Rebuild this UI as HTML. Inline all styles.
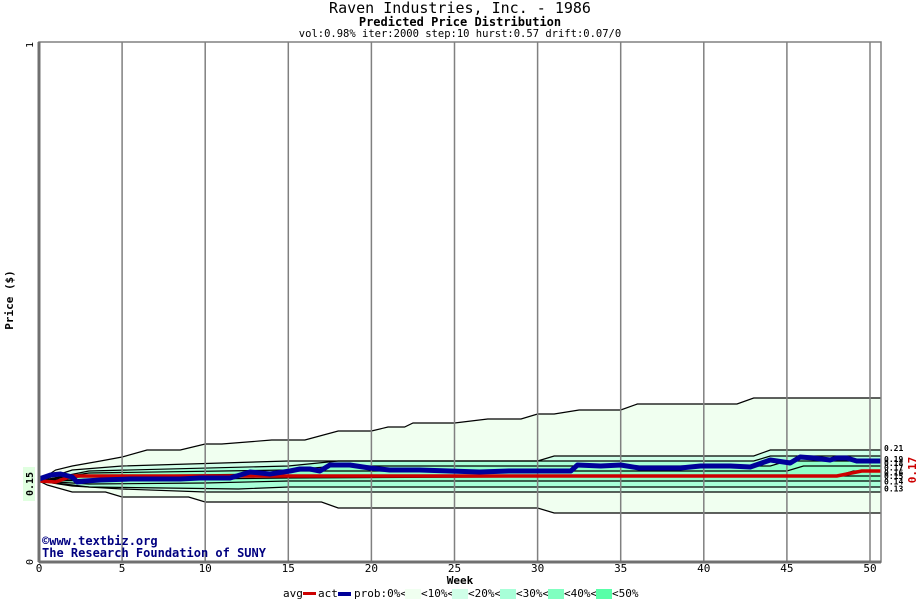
<!DOCTYPE html>
<html><head><meta charset="utf-8"><style>
body{margin:0;background:#fff;}
svg{display:block;font-family:"DejaVu Sans Mono","Liberation Mono",monospace;}
</style></head><body>
<svg id="chart" width="920" height="600" viewBox="0 0 920 600">
<text x="460" y="13" text-anchor="middle" font-size="15">Raven Industries, Inc. - 1986</text>
<text x="460" y="26" text-anchor="middle" font-size="12" font-weight="bold">Predicted Price Distribution</text>
<text x="460" y="37" text-anchor="middle" font-size="10.5">vol:0.98% iter:2000 step:10 hurst:0.57 drift:0.07/0</text>
<g id="bands"></g>
<g id="grid"></g>
<g id="series"></g>
<g id="axes"></g>
<text x="42" y="545" font-size="12" font-weight="bold" fill="#000080">©www.textbiz.org</text>
<text x="42" y="557" font-size="12" font-weight="bold" fill="#000080">The Research Foundation of SUNY</text>
<text transform="translate(13,300) rotate(-90)" text-anchor="middle" font-size="11" font-weight="bold">Price ($)</text>
<text x="460" y="584" text-anchor="middle" font-size="11" font-weight="bold">Week</text>
<text transform="translate(916,470) rotate(-90)" text-anchor="middle" font-size="11" font-weight="bold" fill="#cc0000">0.17</text>
<g id="legend" font-size="11">
<text x="283" y="597">avg</text>
<rect x="303" y="592" width="13" height="3" fill="#cc0000"/>
<text x="318" y="597">act</text>
<rect x="338" y="592" width="13" height="4" fill="#000099"/>
<text x="354" y="597">prob:0%&lt;</text>
<rect x="405" y="589" width="16" height="10" fill="#f0fff0"/>
<text x="421" y="597">&lt;10%&lt;</text>
<rect x="452" y="589" width="16" height="10" fill="#d0ffe8"/>
<text x="468" y="597">&lt;20%&lt;</text>
<rect x="500" y="589" width="16" height="10" fill="#a8ffd8"/>
<text x="516" y="597">&lt;30%&lt;</text>
<rect x="548" y="589" width="16" height="10" fill="#80ffc0"/>
<text x="564" y="597">&lt;40%&lt;</text>
<rect x="596" y="589" width="16" height="10" fill="#58ffa8"/>
<text x="612" y="597">&lt;50%</text>
</g>
</svg>
<script>
const xTicks=[0,5,10,15,20,25,30,35,40,45,50];
const yTicks=[0,0.15,1];
const yTickLabels=["0","0.15","1"];
const rightLabels=["0.21","0.19","0.18","0.17","0.16","0.15","0.14","0.13"];
const rightLabelValues=[0.219,0.198,0.190,0.182,0.172,0.165,0.155,0.141];
// quantile lines: [weeks, values]
const q100W=[0,1,2,3.7,5,6.5,8.5,10,11,14,16,18,20,21,22,22.5,25,27,29,30,31,32.5,35,36,42,43,50.65];
const q100V=[0.1558,0.1769,0.1846,0.1942,0.2019,0.2154,0.2154,0.2269,0.2269,0.2346,0.2346,0.2519,0.2519,0.2596,0.2596,0.2673,0.2673,0.275,0.275,0.2846,0.2846,0.2923,0.2923,0.3038,0.3038,0.3154,0.3154];
const q90W=[0,2,5,15,30,31,43,44,50.65];
const q90V=[0.1558,0.1769,0.1846,0.1942,0.1942,0.2038,0.2038,0.2154,0.2154];
const q80W=[0,3,15,18,43,44,50.65];
const q80V=[0.1558,0.175,0.1846,0.1942,0.1942,0.2038,0.2038];
const q70W=[0,3,15,18,44,45,50.65];
const q70V=[0.1558,0.1712,0.1769,0.1846,0.1846,0.1942,0.1942];
const q60W=[0,3,14,15,45,46,50.65];
const q60V=[0.1558,0.1654,0.1692,0.175,0.175,0.1846,0.1846];
const q50W=[0,5,15,48,49,50.65];
const q50V=[0.1558,0.1615,0.1654,0.1654,0.175,0.175];
const q40W=[0,15,40,50.65];
const q40V=[0.1558,0.1615,0.1654,0.1654];
const q30W=[0,3,10,15,50.65];
const q30V=[0.1558,0.15,0.1519,0.1558,0.1558];
const q20W=[0,3,12,15,50.65];
const q20V=[0.1558,0.1442,0.1404,0.1442,0.1442];
const q10W=[0,2,5,10,50.65];
const q10V=[0.1558,0.1462,0.1404,0.1346,0.1346];
const q0W=[0,0.5,2,4,5,9,10,17,18,30,31,50.65];
const q0V=[0.1558,0.1481,0.1346,0.1346,0.125,0.125,0.1154,0.1154,0.1038,0.1038,0.0942,0.0942];
const avgW=[0,1,2,48,49.5,50.65];
const avgV=[0.1558,0.1538,0.1654,0.1654,0.175,0.175];
const actW=[0,0.7,1.3,2,2.3,2.8,3.7,5.5,7.3,8.5,9.7,11.5,12.7,13.9,15.1,15.7,16.3,16.9,17.5,18.7,19.9,21.1,22.9,24.7,26.5,28.3,29.5,32,32.4,33.8,35,36.1,38.6,39.8,41.6,42.8,44,45.2,45.8,46.6,47.6,48,48.6,49.2,50.65];
const actV=[0.1596,0.1673,0.1692,0.1635,0.1538,0.1558,0.1577,0.1596,0.1596,0.1596,0.1615,0.1615,0.1731,0.1692,0.175,0.1788,0.1788,0.175,0.1865,0.1865,0.1808,0.1769,0.1769,0.175,0.1731,0.175,0.175,0.175,0.1865,0.1846,0.1865,0.1808,0.1808,0.1846,0.1846,0.1827,0.1962,0.1904,0.2019,0.2,0.1962,0.2,0.2,0.1942,0.1942];

const X0=39,XW=16.62,Y0=562,YH=520,XR=881;
const xs=w=>X0+w*XW;
const ys=v=>Y0-v*YH;
const NS="http://www.w3.org/2000/svg";
function mk(tag,parent,attrs){const e=document.createElementNS(NS,tag);for(const k in attrs)e.setAttribute(k,attrs[k]);parent.appendChild(e);return e;}
function pts(W,V){return W.map((w,i)=>xs(w).toFixed(1)+","+ys(V[i]).toFixed(1));}
const lines=[[q100W,q100V],[q90W,q90V],[q80W,q80V],[q70W,q70V],[q60W,q60V],[q50W,q50V],[q40W,q40V],[q30W,q30V],[q20W,q20V],[q10W,q10V],[q0W,q0V]];
const fills=["#f0fff0","#d0ffe8","#a8ffd8","#90ffc8","#90ffc8","#90ffc8","#90ffc8","#a8ffd8","#d0ffe8","#f0fff0"];
const bands=document.getElementById('bands');
for(let i=0;i<10;i++){
  const a=lines[i],b=lines[i+1];
  const p=pts(a[0],a[1]).concat(pts(b[0],b[1]).reverse());
  const poly=mk('polygon',bands,{points:p.join(' '),fill:fills[i],stroke:'none'});
  
  
}
lines.forEach((l,i)=>{
  const pl=mk('polyline',bands,{points:pts(l[0],l[1]).join(' '),fill:'none',stroke:'#000','stroke-width':1.2});
  
  
});
const grid=document.getElementById('grid');
xTicks.forEach(t=>{
  if(t===0)return;
  const l=mk('line',grid,{x1:xs(t),x2:xs(t),y1:42,y2:Y0,stroke:'#808080','stroke-width':1.5});
  
  
});
const series=document.getElementById('series');
const avg=mk('polyline',series,{points:pts(avgW,avgV).join(' '),fill:'none',stroke:'#cc0000','stroke-width':3.5});


const act=mk('polyline',series,{points:pts(actW,actV).join(' '),fill:'none',stroke:'#000099','stroke-width':5,'stroke-linejoin':'round'});


const axes=document.getElementById('axes');
const frame=mk('rect',axes,{x:X0,y:42,width:XR-X0,height:Y0-42,fill:'none',stroke:'#808080','stroke-width':1.5});


const la=mk('line',axes,{x1:X0,x2:X0,y1:42,y2:Y0,stroke:'#707070','stroke-width':3});


const ba=mk('line',axes,{x1:X0,x2:XR,y1:Y0,y2:Y0,stroke:'#707070','stroke-width':3});


xTicks.forEach(t=>{
  const tx=mk('text',axes,{x:xs(t),y:572,'text-anchor':'middle','font-size':11});
  tx.textContent=t;
  
  
});
yTicks.forEach((v,i)=>{
  const y=Math.max(ys(v),45);
  if(v===0.15){const r=mk('rect',axes,{x:23,y:y-17,width:12,height:34,fill:'#e0ffe0'});}
  const tx=mk('text',axes,{transform:'translate(33,'+y+') rotate(-90)','text-anchor':'middle','font-size':10,'font-weight':v===0.15?'bold':'normal'});
  tx.textContent=yTickLabels[i];
  
  
});
rightLabels.forEach((s,i)=>{
  const tx=mk('text',axes,{x:884,y:ys(rightLabelValues[i])+3,'font-size':8,'font-weight':'bold'});
  tx.textContent=s;
  
  
});
</script>
</body></html>
